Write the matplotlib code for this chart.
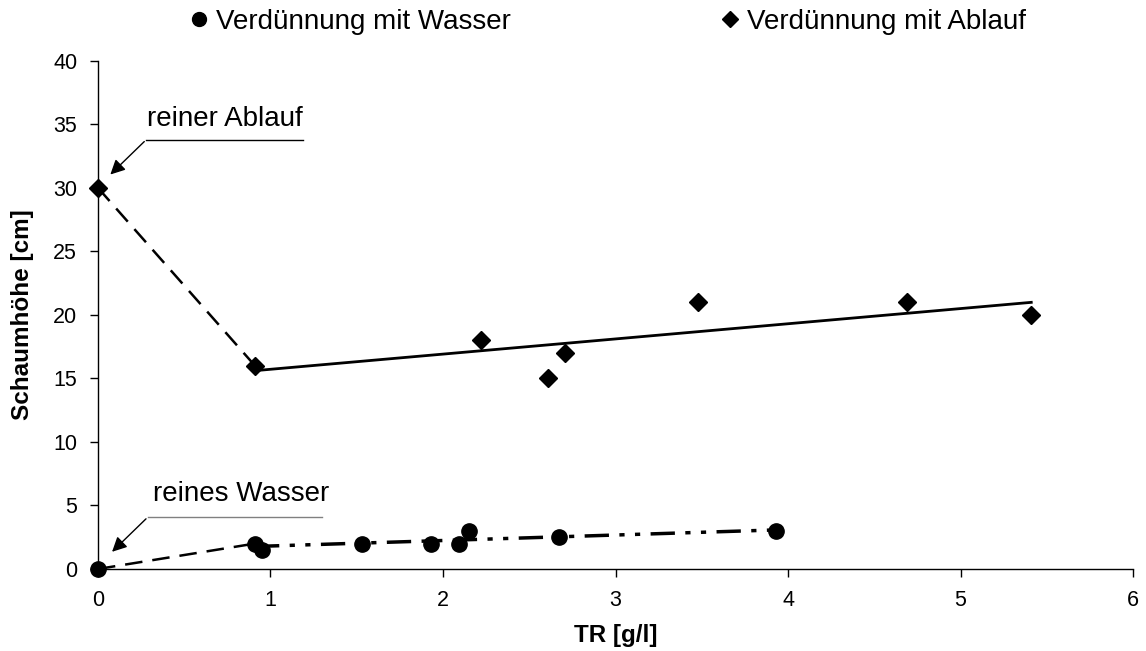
import numpy as np
import matplotlib.pyplot as plt
from matplotlib.lines import Line2D

plt.rcParams['font.family'] = ['Liberation Sans', 'DejaVu Sans']

# Verdünnung mit Wasser (Kreise)
wasser_x = [0.0, 0.91, 0.95, 1.53, 1.93, 2.09, 2.15, 2.67, 3.93]
wasser_y = [0.0, 2.0, 1.5, 2.0, 2.0, 2.0, 3.0, 2.5, 3.0]

# Verdünnung mit Ablauf (Rauten)
ablauf_x = [0.0, 0.91, 2.22, 2.61, 2.71, 3.48, 4.69, 5.41]
ablauf_y = [30.0, 16.0, 18.0, 15.0, 17.0, 21.0, 21.0, 20.0]

x_ticks = [0, 1, 2, 3, 4, 5, 6]
y_ticks = [0, 5, 10, 15, 20, 25, 30, 35, 40]

fig = plt.figure(figsize=(11.46, 6.51), dpi=100)
ax = fig.add_axes([0.0855, 0.126, 0.9032, 0.7805])

# dashed connection from the pure sample to the first dilution
ax.plot(ablauf_x[:2], ablauf_y[:2], color='black', lw=1.8, linestyle=(0, (7, 4)), zorder=2)
ax.plot(wasser_x[:2], wasser_y[:2], color='black', lw=1.8, linestyle=(0, (7, 4)), zorder=2)

# linear trend lines over the dilutions
k, d = np.polyfit(ablauf_x[1:], ablauf_y[1:], 1)
xa = np.array([ablauf_x[1], max(ablauf_x)])
ax.plot(xa, k * xa + d, color='black', lw=2, zorder=2)

k, d = np.polyfit(wasser_x[1:], wasser_y[1:], 1)
xw = np.array([wasser_x[1], max(wasser_x)])
ax.plot(xw, k * xw + d, color='black', lw=2.5, linestyle=(0, (7, 3, 1.5, 3, 1.5, 3)), zorder=2)

ax.plot(wasser_x, wasser_y, 'o', color='black', ms=11, zorder=3, clip_on=False)
ax.plot(ablauf_x, ablauf_y, 'D', color='black', ms=9, zorder=3, clip_on=False)

# annotations
ax.plot([0.28, 1.19], [33.8, 33.8], color='black', lw=1, zorder=1)
ax.annotate('', xy=(0.06, 30.9), xytext=(0.28, 33.8),
            arrowprops=dict(arrowstyle='-|>', color='black', lw=1, mutation_scale=22))
ax.text(0.285, 34.9, 'reiner Ablauf', fontsize=20, ha='left', va='baseline')

ax.plot([0.29, 1.30], [4.1, 4.1], color='#808080', lw=1, zorder=1)
ax.annotate('', xy=(0.07, 1.2), xytext=(0.29, 4.1),
            arrowprops=dict(arrowstyle='-|>', color='black', lw=1, mutation_scale=22))
ax.text(0.32, 5.35, 'reines Wasser', fontsize=20, ha='left', va='baseline')

ax.set_xlim(0, 6)
ax.set_ylim(0, 40)
ax.set_xticks(x_ticks)
ax.set_yticks(y_ticks)
ax.tick_params(direction='out', length=6, width=1, labelsize=15.5, pad=9)
for s in ['top', 'right']:
    ax.spines[s].set_visible(False)
ax.spines['left'].set_linewidth(1)
ax.spines['bottom'].set_linewidth(1)

ax.set_xlabel('TR [g/l]', fontsize=17.5, fontweight='bold')
ax.set_ylabel('Schaumhöhe [cm]', fontsize=17.5, fontweight='bold')
ax.xaxis.set_label_coords(0.5, -0.108)
ax.yaxis.set_label_coords(-0.062, 0.5)

handles = [
    Line2D([], [], marker='o', color='black', linestyle='none', ms=10),
    Line2D([], [], marker='D', color='black', linestyle='none', ms=8),
]
fig.legend(handles, ['Verdünnung mit Wasser', 'Verdünnung mit Ablauf'],
           loc='center', bbox_to_anchor=(0.531, 0.966), ncol=2, frameon=False,
           fontsize=20, handlelength=0.6, handletextpad=0.3, columnspacing=7.6)

fig.savefig('out.png', dpi=100)
